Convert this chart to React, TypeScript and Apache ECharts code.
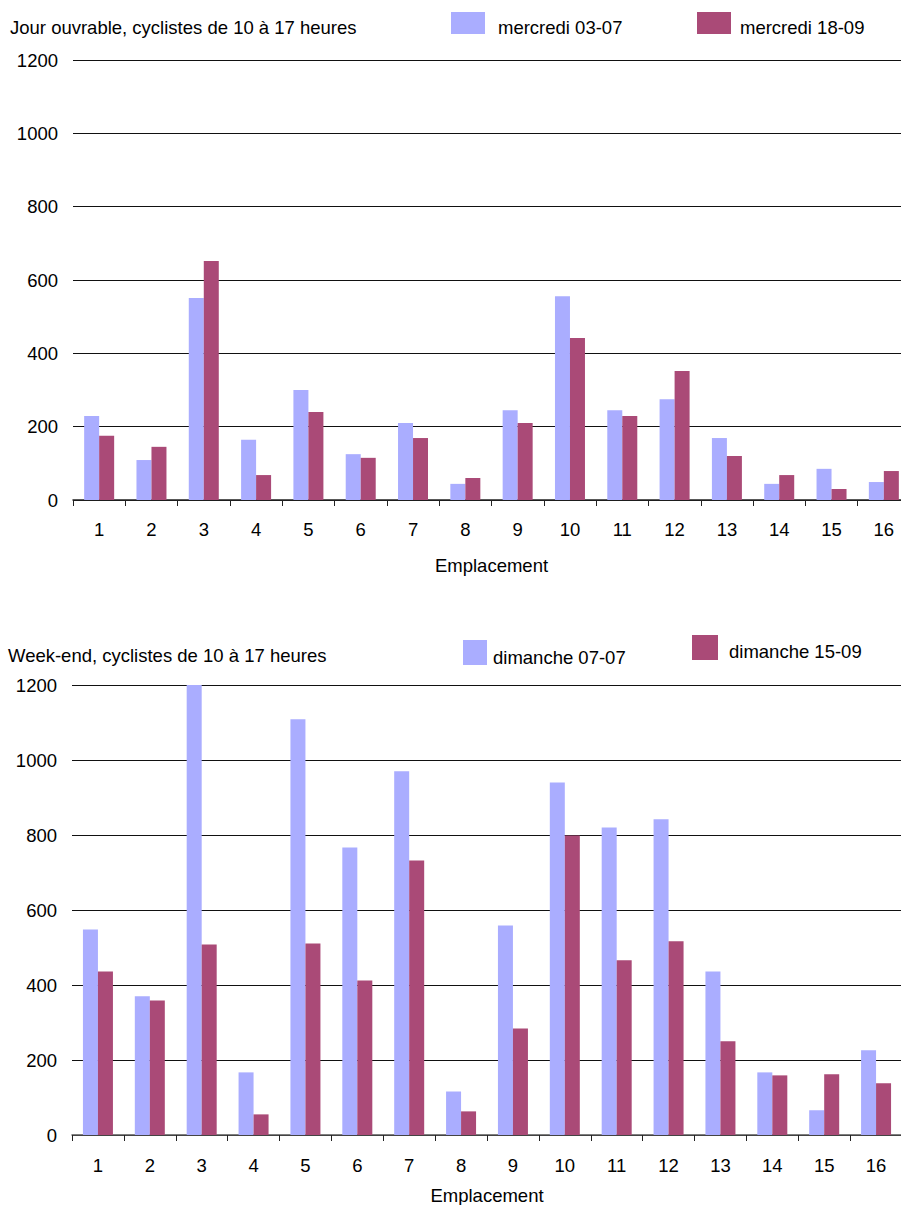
import React, { useEffect, useRef } from "react";
import * as echarts from "echarts";

const categories = ["1", "2", "3", "4", "5", "6", "7", "8", "9", "10", "11", "12", "13", "14", "15", "16"];
const yMin = 0;
const yMax = 1200;
const yStep = 200;

const weekdayTitle = "Jour ouvrable, cyclistes de 10 à 17 heures";
const weekendTitle = "Week-end, cyclistes de 10 à 17 heures";
const axisName = "Emplacement";

const weekdayNames = ["mercredi 03-07", "mercredi 18-09"];
const weekendNames = ["dimanche 07-07", "dimanche 15-09"];

const weekdayJuly = [229, 109, 551, 164, 300, 125, 210, 44, 245, 556, 245, 275, 169, 44, 85, 49];
const weekdaySept = [175, 145, 652, 68, 240, 115, 169, 60, 210, 442, 229, 352, 120, 68, 30, 79];
const weekendJuly = [548, 370, 1200, 167, 1109, 767, 970, 116, 559, 940, 820, 842, 436, 167, 66, 226];
const weekendSept = [436, 359, 508, 55, 511, 412, 732, 63, 284, 799, 466, 517, 250, 159, 162, 138];

const LIGHT = "#aaadff";
const DARK = "#aa4a77";
const FONT = "Liberation Sans, Arial, Helvetica, sans-serif";
const FS = 18.5;

export default function App() {
  const ref = useRef<HTMLDivElement>(null);

  useEffect(() => {
    if (!ref.current) return;
    const chart = echarts.init(ref.current, undefined, { renderer: "svg" });

    const xAxisBase = (gridIndex: number, nameGap: number, labelMargin: number, lineColor: string) => ({
      type: "category" as const,
      gridIndex,
      data: categories,
      boundaryGap: true,
      name: axisName,
      nameLocation: "middle" as const,
      nameGap,
      nameTextStyle: { color: "#000", fontSize: FS, fontFamily: FONT },
      axisLine: { show: true, lineStyle: { color: lineColor, width: 1.5 } },
      axisTick: { show: true, alignWithLabel: false, length: 6, lineStyle: { color: "#222", width: 1 } },
      axisLabel: { color: "#000", fontSize: FS, fontFamily: FONT, margin: labelMargin },
      splitLine: { show: false },
    });

    const yAxisBase = (gridIndex: number) => ({
      type: "value" as const,
      gridIndex,
      min: yMin,
      max: yMax,
      interval: yStep,
      axisLine: { show: false },
      axisTick: { show: false },
      axisLabel: {
        color: "#000",
        fontSize: FS,
        fontFamily: FONT,
        margin: 15,
        formatter: (v: number) => String(v),
      },
      splitLine: { show: true, lineStyle: { color: "#111", width: 1 } },
    });

    const legendItems = (
      sq: { x: number; y: number; w: number; h: number; color: string },
      label: string,
      tx: number,
      ty: number
    ) => [
      { type: "rect", shape: { x: sq.x, y: sq.y, width: sq.w, height: sq.h }, style: { fill: sq.color } },
      {
        type: "text",
        x: tx,
        y: ty,
        style: { text: label, fill: "#000", font: `${FS}px ${FONT}`, align: "left", verticalAlign: "middle" },
      },
    ];

    chart.setOption({
      animation: false,
      backgroundColor: "#fff",
      grid: [
        { left: 73, right: -9, top: 60, height: 440, containLabel: false, outerBoundsMode: "none" },
        { left: 72, right: -1, top: 685, height: 450, containLabel: false, outerBoundsMode: "none" },
      ],
      xAxis: [xAxisBase(0, 56, 20, "#222"), xAxisBase(1, 51, 21, "#555")],
      yAxis: [yAxisBase(0), yAxisBase(1)],
      series: [
        { type: "bar", name: weekdayNames[0], xAxisIndex: 0, yAxisIndex: 0, data: weekdayJuly, barWidth: 15, barGap: "0%", itemStyle: { color: LIGHT } },
        { type: "bar", name: weekdayNames[1], xAxisIndex: 0, yAxisIndex: 0, data: weekdaySept, barWidth: 15, barGap: "0%", itemStyle: { color: DARK } },
        { type: "bar", name: weekendNames[0], xAxisIndex: 1, yAxisIndex: 1, data: weekendJuly, barWidth: 15, barGap: "0%", itemStyle: { color: LIGHT } },
        { type: "bar", name: weekendNames[1], xAxisIndex: 1, yAxisIndex: 1, data: weekendSept, barWidth: 15, barGap: "0%", itemStyle: { color: DARK } },
      ],
      graphic: [
        {
          type: "text",
          x: 10,
          y: 27,
          style: { text: weekdayTitle, fill: "#000", font: `${FS}px ${FONT}`, align: "left", verticalAlign: "middle" },
        },
        ...legendItems({ x: 451, y: 12, w: 34, h: 22, color: LIGHT }, weekdayNames[0], 498, 27),
        ...legendItems({ x: 697, y: 12, w: 34, h: 22, color: DARK }, weekdayNames[1], 740, 27),
        {
          type: "text",
          x: 8,
          y: 655,
          style: { text: weekendTitle, fill: "#000", font: `${FS}px ${FONT}`, align: "left", verticalAlign: "middle" },
        },
        ...legendItems({ x: 463, y: 640, w: 24, h: 25, color: LIGHT }, weekendNames[0], 493, 657),
        ...legendItems({ x: 692, y: 635, w: 26, h: 25, color: DARK }, weekendNames[1], 729, 651),
      ],
    });

    return () => {
      chart.dispose();
    };
  }, []);

  return (
    <div
      ref={ref}
      style={{ position: "absolute", left: 0, top: 0, width: 901, height: 1205, overflow: "hidden" }}
    />
  );
}
